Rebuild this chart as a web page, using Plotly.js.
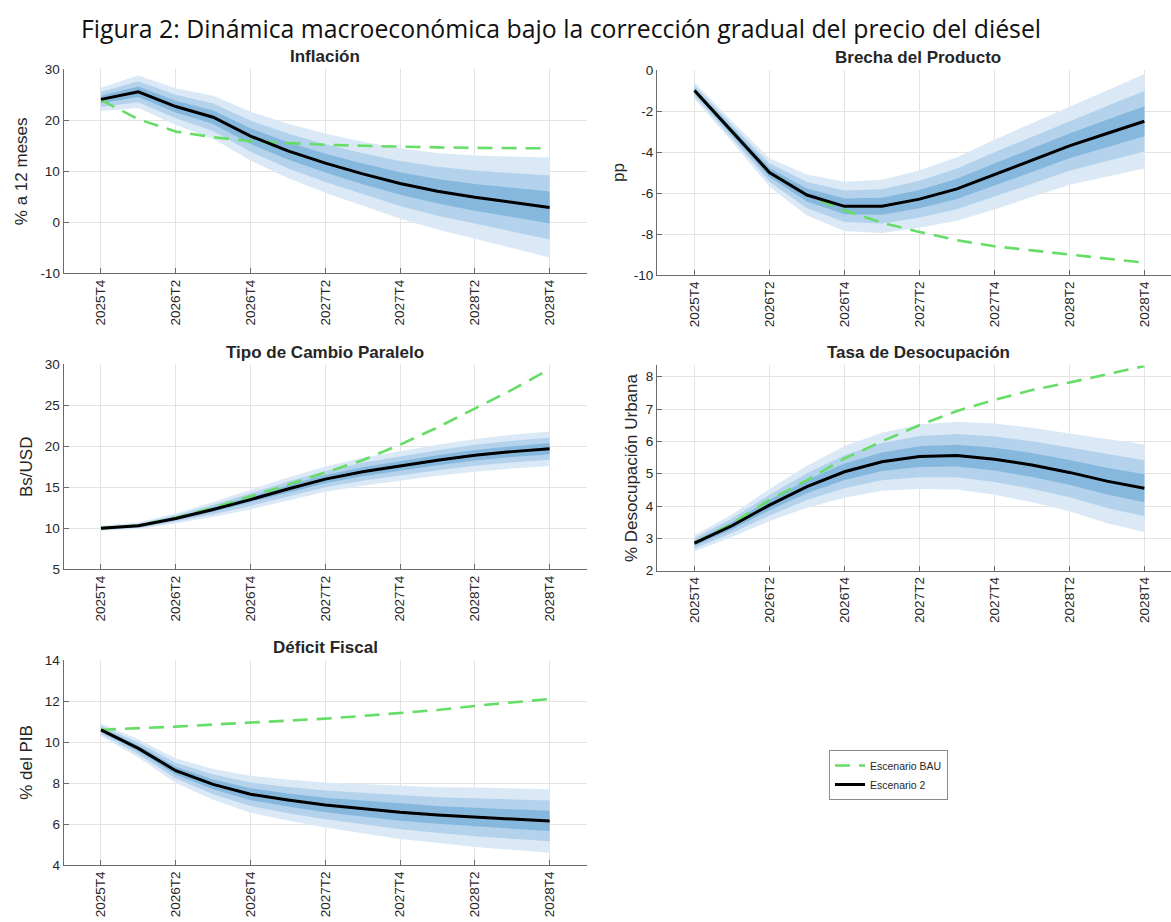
<!DOCTYPE html>
<html>
<head>
<meta charset="utf-8">
<script src="https://cdn.plot.ly/plotly-3.0.1.min.js"></script>
<style>
  html, body { margin: 0; padding: 0; background: #ffffff; }
  #chart { width: 1171px; height: 922px; }
</style>
</head>
<body>
<div id="chart"></div>
<script>
// Quarterly horizon of the projection
const quarters = ['2025T4','2026T1','2026T2','2026T3','2026T4','2027T1','2027T2',
                  '2027T3','2027T4','2028T1','2028T2','2028T3','2028T4'];
const tickQuarters = ['2025T4','2026T2','2026T4','2027T2','2027T4','2028T2','2028T4'];

// Inflación (% a 12 meses)
const inflEsc2   = [24.1, 25.6, 22.7, 20.6, 16.9, 14.0, 11.6, 9.5, 7.6, 6.1, 4.9, 3.9, 2.9];
const inflBAU    = [24.0, 20.2, 17.8, 16.7, 15.9, 15.5, 15.2, 15.0, 14.8, 14.7, 14.6, 14.5, 14.5];
const inflSpread = [2.3, 3.2, 3.6, 4.2, 4.8, 5.3, 5.8, 6.3, 6.9, 7.5, 8.2, 9.0, 9.8];
const inflTicks  = [-10, 0, 10, 20, 30];

// Brecha del producto (pp)
const gapEsc2   = [-1.0, -3.0, -5.0, -6.1, -6.65, -6.65, -6.3, -5.8, -5.1, -4.4, -3.7, -3.1, -2.5];
const gapBAU    = [-1.0, -3.0, -5.0, -6.1, -6.85, -7.45, -7.9, -8.3, -8.6, -8.8, -9.0, -9.2, -9.4];
const gapSpread = [0.4, 0.5, 0.7, 1.0, 1.2, 1.3, 1.4, 1.55, 1.7, 1.8, 1.9, 2.1, 2.3];
const gapTicks  = [-10, -8, -6, -4, -2, 0];

// Tipo de cambio paralelo (Bs/USD)
const fxEsc2   = [10.0, 10.3, 11.2, 12.3, 13.5, 14.8, 16.0, 16.9, 17.6, 18.3, 18.9, 19.35, 19.7];
const fxBAU    = [10.0, 10.35, 11.3, 12.5, 13.9, 15.3, 16.8, 18.3, 20.2, 22.3, 24.6, 26.9, 29.4];
const fxSpread = [0.3, 0.4, 0.6, 0.9, 1.2, 1.4, 1.55, 1.7, 1.8, 1.9, 2.0, 2.05, 2.1];
const fxTicks  = [5, 10, 15, 20, 25, 30];

// Tasa de desocupación urbana (%)
const unEsc2   = [2.85, 3.39, 4.03, 4.6, 5.06, 5.37, 5.53, 5.56, 5.45, 5.27, 5.04, 4.77, 4.55];
const unBAU    = [2.85, 3.46, 4.19, 4.8, 5.47, 6.0, 6.5, 6.94, 7.28, 7.59, 7.82, 8.07, 8.33];
const unSpread = [0.25, 0.35, 0.5, 0.65, 0.8, 0.9, 1.0, 1.05, 1.1, 1.15, 1.2, 1.3, 1.35];
const unTicks  = [2, 3, 4, 5, 6, 7, 8];

// Déficit fiscal (% del PIB)
const fiscEsc2   = [10.59, 9.69, 8.6, 7.93, 7.45, 7.17, 6.93, 6.75, 6.57, 6.44, 6.33, 6.24, 6.15];
const fiscBAU    = [10.6, 10.67, 10.75, 10.85, 10.94, 11.04, 11.14, 11.27, 11.4, 11.56, 11.76, 11.92, 12.1];
const fiscSpread = [0.3, 0.45, 0.6, 0.75, 0.9, 1.0, 1.1, 1.2, 1.3, 1.35, 1.45, 1.5, 1.55];
const fiscTicks  = [4, 6, 8, 10, 12, 14];

// Fan bands, outermost first: share of the full spread and fill colour
const bandShares = [1.0, 0.64, 0.32];
const bandColors = ['#dbe9f6', '#b4d2ec', '#86b8de'];

const W = 1171, H = 922;
const px = x => x / W;
const py = y => 1 - y / H;

const panels = [
  { title: 'Inflación', ylabel: '% a 12 meses', esc2: inflEsc2, bau: inflBAU, spread: inflSpread, ticks: inflTicks,
    xd: [px(63.6), px(587)], yd: [py(273.3), py(69.3)], xr: [-1, 13], yr: [-10, 30],
    tx: 325, ty: 56, standoff: 8 },
  { title: 'Brecha del Producto', ylabel: 'pp', esc2: gapEsc2, bau: gapBAU, spread: gapSpread, ticks: gapTicks,
    xd: [px(657), 1], yd: [py(275), py(70)], xr: [-1, 12.71], yr: [-10, 0],
    tx: 918, ty: 57, standoff: 4 },
  { title: 'Tipo de Cambio Paralelo', ylabel: 'Bs/USD', esc2: fxEsc2, bau: fxBAU, spread: fxSpread, ticks: fxTicks,
    xd: [px(63.6), px(587)], yd: [py(569.3), py(364.3)], xr: [-1, 13], yr: [5, 30],
    tx: 325, ty: 352, standoff: 7 },
  { title: 'Tasa de Desocupación', ylabel: '% Desocupación Urbana', esc2: unEsc2, bau: unBAU, spread: unSpread, ticks: unTicks,
    xd: [px(657), 1], yd: [py(570.7), py(365.4)], xr: [-1, 12.71], yr: [2, 8.35],
    tx: 918, ty: 352, standoff: 3 },
  { title: 'Déficit Fiscal', ylabel: '% del PIB', esc2: fiscEsc2, bau: fiscBAU, spread: fiscSpread, ticks: fiscTicks,
    xd: [px(63.6), px(587)], yd: [py(865), py(660)], xr: [-1, 13], yr: [4, 14],
    tx: 325, ty: 647, standoff: 7 }
];

const FONT = 'Liberation Sans, Arial, Helvetica, sans-serif';
const INK = '#262626';
const AXIS = '#6b6b6b';
const traces = [];
const annotations = [];
const layout = {
  width: W, height: H,
  margin: { l: 0, r: 0, t: 0, b: 0 },
  paper_bgcolor: '#ffffff', plot_bgcolor: '#ffffff',
  font: { family: FONT, size: 13.5, color: INK },
  showlegend: true,
  legend: {
    x: px(829), y: py(750), xanchor: 'left', yanchor: 'top',
    bgcolor: '#ffffff', bordercolor: '#8c8c8c', borderwidth: 1,
    font: { family: FONT, size: 10.5, color: INK },
    tracegroupgap: 0, itemwidth: 30
  },
  annotations: annotations
};

panels.forEach((p, k) => {
  const n = k + 1;
  const xa = 'x' + (n === 1 ? '' : n);
  const ya = 'y' + (n === 1 ? '' : n);

  // Fan chart: shaded bands around the central path
  bandShares.forEach((share, b) => {
    const upper = p.esc2.map((v, i) => v + share * p.spread[i]);
    const lower = p.esc2.map((v, i) => v - share * p.spread[i]);
    traces.push({
      type: 'scatter', mode: 'lines', xaxis: xa, yaxis: ya,
      x: quarters.concat(quarters.slice().reverse()),
      y: upper.concat(lower.slice().reverse()),
      fill: 'toself', fillcolor: bandColors[b],
      line: { width: 0, color: bandColors[b] },
      hoverinfo: 'skip', showlegend: false
    });
  });

  traces.push({
    type: 'scatter', mode: 'lines', xaxis: xa, yaxis: ya,
    x: quarters, y: p.bau, name: 'Escenario BAU',
    line: { color: '#66dd66', width: 2.6, dash: '15px,9px' },
    showlegend: n === 1
  });
  traces.push({
    type: 'scatter', mode: 'lines', xaxis: xa, yaxis: ya,
    x: quarters, y: p.esc2, name: 'Escenario 2',
    line: { color: '#000000', width: 3 },
    showlegend: n === 1
  });

  layout['xaxis' + (n === 1 ? '' : n)] = {
    domain: p.xd, anchor: ya, type: 'category',
    range: p.xr, tickmode: 'array', tickvals: tickQuarters, ticktext: tickQuarters,
    tickangle: -90, ticks: 'inside', ticklen: 5, tickcolor: AXIS,
    showline: true, linecolor: AXIS, linewidth: 1, mirror: false,
    showgrid: true, gridcolor: '#e3e3e3', gridwidth: 1, zeroline: false,
    tickfont: { family: FONT, size: 13.5, color: INK }, fixedrange: true
  };
  layout['yaxis' + (n === 1 ? '' : n)] = {
    domain: p.yd, anchor: xa, range: p.yr,
    tickmode: 'array', tickvals: p.ticks, ticktext: p.ticks.map(String),
    ticks: 'inside', ticklen: 5, tickcolor: AXIS,
    showline: true, linecolor: AXIS, linewidth: 1, mirror: false,
    showgrid: true, gridcolor: '#e3e3e3', gridwidth: 1, zeroline: false,
    tickfont: { family: FONT, size: 13.5, color: INK },
    title: { text: p.ylabel, standoff: p.standoff, font: { family: FONT, size: 17, color: INK } },
    automargin: false, fixedrange: true
  };

  annotations.push({
    xref: 'paper', yref: 'paper', x: px(p.tx), y: py(p.ty),
    xanchor: 'center', yanchor: 'middle', showarrow: false,
    text: '<b>' + p.title + '</b>',
    font: { family: FONT, size: 17, color: INK }
  });
});

// Figure heading
annotations.push({
  xref: 'paper', yref: 'paper', x: px(561), y: py(28),
  xanchor: 'center', yanchor: 'middle', showarrow: false,
  text: 'Figura 2: Dinámica macroeconómica bajo la corrección gradual del precio del diésel',
  font: { family: 'Open Sans, Noto Sans, sans-serif', size: 24.8, color: '#111111' }
});

Plotly.newPlot('chart', traces, layout, { displayModeBar: false, staticPlot: true });
</script>
</body>
</html>
